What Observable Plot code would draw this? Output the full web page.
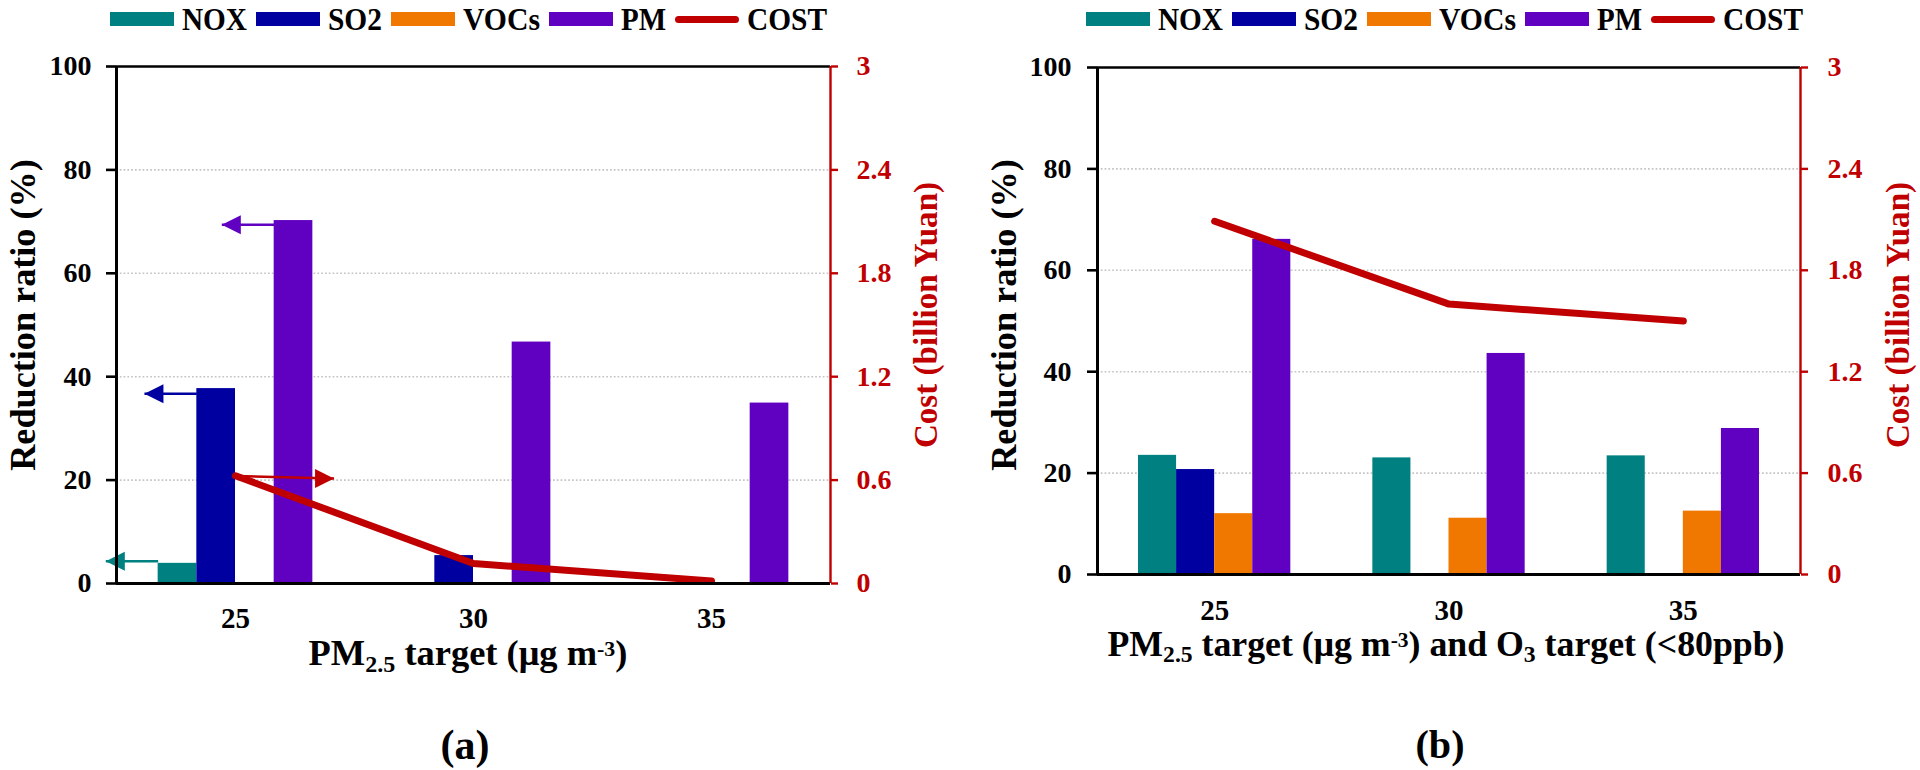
<!DOCTYPE html>
<html>
<head>
<meta charset="utf-8">
<script src="https://cdn.jsdelivr.net/npm/d3@7"></script>
<script src="https://cdn.jsdelivr.net/npm/@observablehq/plot@0.6"></script>
<style>
  html, body { margin: 0; padding: 0; background: #fff; }
  #fig { position: relative; width: 1920px; height: 770px; overflow: hidden;
         font-family: "Liberation Serif", "Times New Roman", serif; font-weight: bold; color: #000; }
  #fig svg { position: absolute; top: 0; }
  .legend { position: absolute; top: 0; height: 38px; display: flex; align-items: center;
            font-size: 32px; white-space: nowrap; transform: translateX(-50%); }
  .legend .sw { display: inline-block; width: 64px; height: 14px; margin-right: 8px; box-sizing: border-box; }
  .legend .ln { display: inline-block; width: 64px; height: 7px; margin-right: 8px; border-radius: 4px; }
  .legend .lab { display: inline-block; margin-right: 9px; line-height: 38px; overflow: visible; }
  .legend .lab span { display: inline-block; transform-origin: 0 50%; }
  .ytitle { position: absolute; white-space: nowrap; font-size: 34px; line-height: 1;
            transform: translate(-50%, -50%) rotate(-90deg); }
  .xtitle { position: absolute; white-space: nowrap; font-size: 36px; line-height: 1;
            transform: translateX(-50%); }
  .xtitle .sub { font-size: 0.66em; position: relative; top: 0.28em; }
  .xtitle .sup { font-size: 0.6em; position: relative; top: -0.42em; }
  .plabel { position: absolute; font-size: 40px; line-height: 1; transform: translate(-50%, -50%); }
</style>
</head>
<body>
<div id="fig"></div>
<script>
// ---------------- data ----------------
const targets = [25, 30, 35];
const series = ["NOX", "SO2", "VOCs", "PM"];
const seriesColors = ["#008080", "#0000A0", "#F07800", "#6000C0"];
const costName = "COST";
const costColor = "#C00000";

// panel (a): PM2.5 target only
const aNOX  = [3.9, 0, 0];
const aSO2  = [37.7, 5.4, 0];
const aVOCs = [0, 0, 0];
const aPM   = [70.2, 46.7, 34.9];
const aCost = [0.625, 0.116, 0.015];

// panel (b): PM2.5 target and O3 target
const bNOX  = [23.5, 23.0, 23.4];
const bSO2  = [20.7, 0, 0];
const bVOCs = [12.0, 11.1, 12.5];
const bPM   = [66.1, 43.6, 28.8];
const bCost = [2.09, 1.60, 1.50];

const yTicks = [0, 20, 40, 60, 80, 100];
const costTickLabels = ["0", "0.6", "1.2", "1.8", "2.4", "3"];
const costMax = 3;

// annotation arrows in panel (a): series, target, reduction ratio (%) level
const aArrows = [
  {series: "NOX",  target: 25, value: 4.3},
  {series: "SO2",  target: 25, value: 36.7},
  {series: "PM",   target: 25, value: 69.4},
  {series: "COST", target: 25, value: 20.8, valueEnd: 20.3}
];

const yTitle = "Reduction ratio (%)";
const y2Title = "Cost (billion Yuan)";

// ---------------- font sizing helpers ----------------
const FONT = '"Liberation Serif", "Times New Roman", serif';
const ctx = document.createElement("canvas").getContext("2d");
function textWidth(s, size) { ctx.font = `bold ${size}px ${FONT}`; return ctx.measureText(s).width; }
function sizeFor(s, targetW) { return 100 * targetW / textWidth(s, 100); }
const tickFont = sizeFor("100", 42);
const xTickFont = 29;

// ---------------- drawing ----------------
const fig = document.getElementById("fig");

const triLeft  = {draw(c) { c.moveTo(0, 0); c.lineTo(19, -9.5); c.lineTo(19, 9.5); c.closePath(); }};
const triRight = {draw(c) { c.moveTo(0, 0); c.lineTo(-19, -9.5); c.lineTo(-19, 9.5); c.closePath(); }};

function makePanel(p) {
  const bw = 0.8125;          // bar width in x units (band = 5)
  const groupStart = -1.625;  // group offset from category center
  const barX1 = (t, i) => t + groupStart + i * bw;
  const values = [p.nox, p.so2, p.vocs, p.pm];
  const rows = [];
  values.forEach((vals, i) => vals.forEach((v, j) => {
    if (v > 0) rows.push({series: series[i], fill: seriesColors[i], x1: barX1(targets[j], i), x2: barX1(targets[j], i) + bw, value: v});
  }));
  const costRows = targets.map((t, j) => ({target: t, cost: p.cost[j]}));
  const arrowLen = 1.1, costArrowLen = 2.07;
  const arrows = (p.arrows || []).map(a => {
    if (a.series === costName) {
      return {color: costColor, xs: a.target, xt: a.target + costArrowLen, ys: a.value, yt: a.valueEnd, dir: 1};
    }
    const i = series.indexOf(a.series);
    const xs = barX1(a.target, i);
    return {color: seriesColors[i], xs, xt: xs - arrowLen, ys: a.value, yt: a.value, dir: -1};
  });
  const dom = [targets[0] - 2.5, targets[targets.length - 1] + 2.5];

  return Plot.plot({
    width: 960, height: 640,
    marginLeft: p.ml, marginRight: p.mr, marginTop: p.mt, marginBottom: p.mb,
    style: {fontFamily: FONT, fontWeight: "bold", fontSize: tickFont + "px", background: "transparent", overflow: "visible"},
    x: {type: "linear", domain: dom},
    y: {domain: [0, 100]},
    marks: [
      Plot.ruleY([20, 40, 60, 80], {stroke: "#c4c4c4", strokeWidth: 1.6, strokeDasharray: "1.7 2.1"}),
      Plot.rectY(rows, {x1: "x1", x2: "x2", y: "value", fill: "fill"}),
      Plot.line(costRows, {x: "target", y: d => d.cost / costMax * 100, stroke: costColor, strokeWidth: 7,
                           strokeLinecap: "round", strokeLinejoin: "round"}),
      Plot.link(arrows, {x1: "xs", y1: "ys", x2: "xt", y2: "yt", stroke: "color", strokeWidth: 2.5}),
      Plot.dot(arrows.filter(a => a.dir < 0), {x: "xt", y: "yt", symbol: triLeft, fill: "color", stroke: null}),
      Plot.dot(arrows.filter(a => a.dir > 0), {x: "xt", y: "yt", symbol: triRight, fill: "color", stroke: null}),
      Plot.ruleY([100], {stroke: "#000", strokeWidth: 2.6}),
      Plot.ruleY([0], {stroke: "#000", strokeWidth: 3}),
      Plot.ruleX([dom[0]], {y1: 0, y2: 100, stroke: "#000", strokeWidth: 3}),
      Plot.ruleX([dom[1]], {y1: 0, y2: 100, stroke: costColor, strokeWidth: 2.4}),
      Plot.axisY(yTicks, {anchor: "left", tickSize: 10, tickPadding: p.tpl, strokeWidth: 2.6,
                          fontSize: tickFont, label: null, tickFormat: d => String(d)}),
      Plot.axisY(yTicks, {anchor: "right", tickSize: 7, tickPadding: p.tpr, strokeWidth: 2.4,
                          stroke: costColor, fill: costColor, fontSize: tickFont, label: null,
                          tickFormat: d => costTickLabels[yTicks.indexOf(d)]}),
      Plot.axisX(targets, {anchor: "bottom", tickSize: 0, tickPadding: p.tpx, fontSize: xTickFont, label: null,
                           tickFormat: d => String(d)})
    ]
  });
}

const panels = [
  {left: 0, nox: aNOX, so2: aSO2, vocs: aVOCs, pm: aPM, cost: aCost, arrows: aArrows,
   ml: 116, mr: 130, mt: 66, mb: 57, tpl: 15, tpr: 19, tpx: 24,
   xtitle: 'PM<span class="sub">2.5</span> target (μg m<span class="sup">-3</span>)', xtitleW: 319, label: "(a)",
   xtitleX: 468, xtitleBase: 668, labelX: 465, ytX: 23, y2X: 926},
  {left: 960, nox: bNOX, so2: bSO2, vocs: bVOCs, pm: bPM, cost: bCost, arrows: [],
   ml: 137, mr: 120, mt: 67, mb: 66, tpl: 16, tpr: 20, tpx: 25,
   xtitle: 'PM<span class="sub">2.5</span> target (μg m<span class="sup">-3</span>) and O<span class="sub">3</span> target (&lt;80ppb)', xtitleW: 677, label: "(b)",
   xtitleX: 1446, xtitleBase: 659, labelX: 1440, ytX: 1004, y2X: 1898}
];

// legend label widths (px) as they appear, text drawn slightly condensed
const legendLabelW = [65, 54, 77, 45, 80];

function fitEl(el, targetW) {
  const fs = parseFloat(getComputedStyle(el).fontSize);
  el.style.fontSize = (fs * targetW / el.offsetWidth) + "px";
}

function legendLabel(text, w) {
  const lab = document.createElement("span");
  lab.className = "lab";
  lab.style.width = w + "px";
  const inner = document.createElement("span");
  inner.textContent = text;
  inner.style.transform = `scaleX(${(w / textWidth(text, 32)).toFixed(3)})`;
  lab.appendChild(inner);
  return lab;
}

for (const p of panels) {
  const svg = makePanel(p);
  svg.style.left = p.left + "px";
  fig.appendChild(svg);

  // legend
  const plotCenter = p.left + p.ml + (960 - p.ml - p.mr) / 2;
  const lg = document.createElement("div");
  lg.className = "legend";
  lg.style.left = plotCenter + "px";
  series.forEach((s, i) => {
    const sw = document.createElement("span");
    sw.className = "sw";
    sw.style.background = seriesColors[i];
    lg.appendChild(sw);
    lg.appendChild(legendLabel(s, legendLabelW[i]));
  });
  const ln = document.createElement("span");
  ln.className = "ln";
  ln.style.background = costColor;
  lg.appendChild(ln);
  lg.appendChild(legendLabel(costName, legendLabelW[4]));
  fig.appendChild(lg);

  // axis titles
  const yt = document.createElement("div");
  yt.className = "ytitle";
  yt.textContent = yTitle;
  yt.style.left = p.ytX + "px"; yt.style.top = "315px";
  fig.appendChild(yt);
  fitEl(yt, 312);

  const y2 = document.createElement("div");
  y2.className = "ytitle";
  y2.textContent = y2Title;
  y2.style.color = costColor;
  y2.style.left = p.y2X + "px"; y2.style.top = "315px";
  fig.appendChild(y2);
  fitEl(y2, 266);

  const xt = document.createElement("div");
  xt.className = "xtitle";
  xt.innerHTML = p.xtitle;
  xt.style.left = p.xtitleX + "px";
  fig.appendChild(xt);
  fitEl(xt, p.xtitleW);
  const xfs = parseFloat(xt.style.fontSize);
  xt.style.top = (p.xtitleBase - 0.9 * xfs) + "px";

  const pl = document.createElement("div");
  pl.className = "plabel";
  pl.textContent = p.label;
  pl.style.left = p.labelX + "px"; pl.style.top = "745px";
  pl.style.fontSize = sizeFor(p.label, 49) + "px";
  fig.appendChild(pl);
}
</script>
</body>
</html>
